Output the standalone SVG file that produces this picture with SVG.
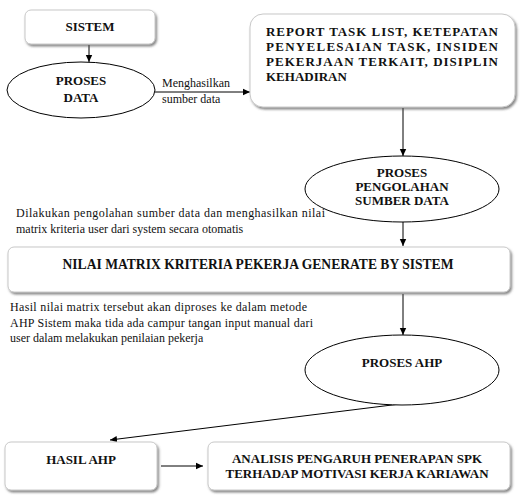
<svg xmlns="http://www.w3.org/2000/svg" width="521" height="503" viewBox="0 0 521 503">
<style>
.box{fill:#fff;stroke:#c8c8c8;stroke-width:1;filter:url(#sh)}
.ell{fill:#fff;stroke:#000;stroke-width:1}
.t{font-family:'Liberation Serif','Times New Roman','DejaVu Serif',serif;font-weight:bold;font-size:13px;fill:#111}
.s{font-family:'Liberation Serif','Times New Roman','DejaVu Serif',serif;font-size:12px;fill:#111}
.c{stroke:#000;stroke-width:1;fill:none;marker-end:url(#ah)}
</style>
<defs>
<filter id="sh" x="-10%" y="-20%" width="120%" height="150%">
<feDropShadow dx="1.5" dy="2" stdDeviation="1.2" flood-color="#555" flood-opacity="0.7"/>
</filter>
<marker id="ah" markerWidth="8" markerHeight="8" refX="7" refY="4" orient="auto" markerUnits="userSpaceOnUse">
<path d="M0,0.8 L7,4 L0,7.2 Z" fill="#000"/>
</marker>
</defs>
<rect width="521" height="503" fill="#fff"/>
<g id="connectors">
<line class="c" x1="89" y1="45" x2="89" y2="62"/>
<line class="c" x1="155" y1="92" x2="250" y2="92"/>
<line class="c" x1="403" y1="108" x2="403" y2="156"/>
<line class="c" x1="403" y1="222" x2="403" y2="246"/>
<line class="c" x1="403" y1="294" x2="403" y2="335"/>
<line class="c" x1="408" y1="403" x2="110" y2="440"/>
<line class="c" x1="161" y1="466" x2="203" y2="466"/>
</g>
<g id="sistem">
<rect class="box" x="25" y="10" width="130" height="34" rx="6"/>
<text class="t" x="90" y="31" text-anchor="middle">SISTEM</text>
</g>
<g id="proses-data">
<ellipse class="ell" cx="81" cy="90" rx="74" ry="28"/>
<text class="t" x="81" y="85" text-anchor="middle">PROSES</text>
<text class="t" x="81" y="102" text-anchor="middle">DATA</text>
</g>
<g id="label-menghasilkan">
<text class="s" x="162" y="87">Menghasilkan</text>
<text class="s" x="162" y="103">sumber data</text>
</g>
<g id="report">
<rect class="box" x="250" y="14" width="265" height="93" rx="13"/>
<text class="t" x="266" y="36" textLength="232" lengthAdjust="spacing">REPORT TASK LIST, KETEPATAN</text>
<text class="t" x="266" y="51" textLength="232" lengthAdjust="spacing">PENYELESAIAN TASK, INSIDEN</text>
<text class="t" x="266" y="66" textLength="232" lengthAdjust="spacing">PEKERJAAN TERKAIT, DISIPLIN</text>
<text class="t" x="266" y="81">KEHADIRAN</text>
</g>
<g id="proses-pengolahan">
<ellipse class="ell" cx="402" cy="189" rx="97" ry="33"/>
<text class="t" x="402" y="177" text-anchor="middle">PROSES</text>
<text class="t" x="402" y="191" text-anchor="middle">PENGOLAHAN</text>
<text class="t" x="402" y="205" text-anchor="middle">SUMBER DATA</text>
</g>
<g id="label-dilakukan">
<text class="s" x="16" y="217" textLength="309" lengthAdjust="spacing">Dilakukan pengolahan sumber data dan menghasilkan nilai</text>
<text class="s" x="16" y="233">matrix kriteria user dari system secara otomatis</text>
</g>
<g id="nilai-matrix">
<rect class="box" x="8" y="247" width="502" height="45" rx="6"/>
<text class="t" x="258" y="269" text-anchor="middle" style="font-size:13.6px">NILAI MATRIX KRITERIA PEKERJA GENERATE BY SISTEM</text>
</g>
<g id="label-hasil">
<text class="s" x="10" y="311" textLength="297" lengthAdjust="spacing">Hasil nilai matrix tersebut akan diproses ke dalam metode</text>
<text class="s" x="10" y="327" textLength="303" lengthAdjust="spacing">AHP Sistem maka tida ada campur tangan input manual dari</text>
<text class="s" x="10" y="342">user dalam melakukan penilaian pekerja</text>
</g>
<g id="proses-ahp">
<ellipse class="ell" cx="402" cy="370" rx="97" ry="35"/>
<text class="t" x="402" y="367" text-anchor="middle">PROSES AHP</text>
</g>
<g id="hasil-ahp">
<rect class="box" x="5" y="442" width="152" height="48" rx="6"/>
<text class="t" x="81" y="464" text-anchor="middle">HASIL AHP</text>
</g>
<g id="analisis">
<rect class="box" x="208" y="442" width="302" height="48" rx="6"/>
<text class="t" x="357" y="463" text-anchor="middle">ANALISIS PENGARUH PENERAPAN SPK</text>
<text class="t" x="357" y="478" text-anchor="middle">TERHADAP MOTIVASI KERJA KARIAWAN</text>
</g>
</svg>
